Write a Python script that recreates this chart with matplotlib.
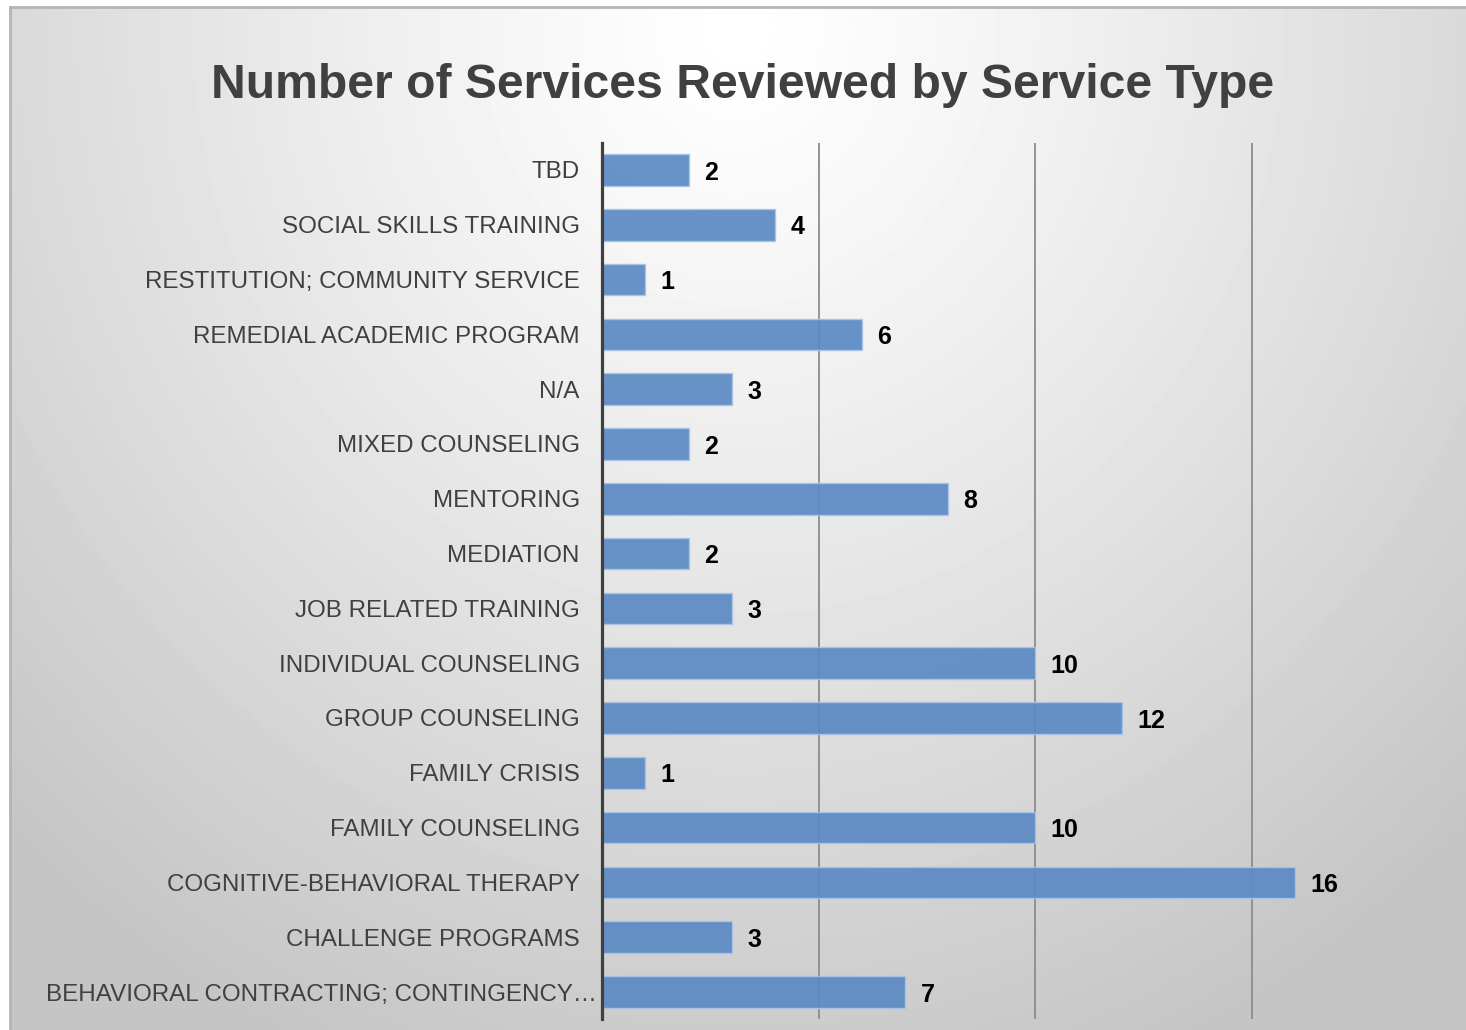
import matplotlib.pyplot as plt
import numpy as np

categories = ['TBD', 'SOCIAL SKILLS TRAINING', 'RESTITUTION; COMMUNITY SERVICE',
              'REMEDIAL ACADEMIC PROGRAM', 'N/A', 'MIXED COUNSELING', 'MENTORING',
              'MEDIATION', 'JOB RELATED TRAINING', 'INDIVIDUAL COUNSELING',
              'GROUP COUNSELING', 'FAMILY CRISIS', 'FAMILY COUNSELING',
              'COGNITIVE-BEHAVIORAL THERAPY', 'CHALLENGE PROGRAMS',
              'BEHAVIORAL CONTRACTING; CONTINGENCY\u2026']
counts = [2, 4, 1, 6, 3, 2, 8, 2, 3, 10, 12, 1, 10, 16, 3, 7]
xticks = [0, 5, 10, 15, 20]

plt.rcParams['font.family'] = ['Liberation Sans', 'DejaVu Sans']

W, H = 1466, 1030
fig = plt.figure(figsize=(W / 100, H / 100), dpi=100)
fig.patch.set_facecolor('white')

# gradient background panel
x0 = 10 / W
bg = fig.add_axes([x0, 0.0, 1 - x0, 1 - 7 / H])
gx, gy = np.meshgrid(np.linspace(0, 1, 400), np.linspace(0, 1, 300))
r = np.sqrt(((gx - 0.5) / 0.72) ** 2 + ((gy - 0.02) / 1.1) ** 2)
shade = 1.0 - 0.23 * np.clip(r, 0, 1) ** 1.2
bg.imshow(shade, cmap='gray', vmin=0, vmax=1, aspect='auto',
          extent=[0, 1, 0, 1], origin='upper')
bg.set_xticks([])
bg.set_yticks([])
for side in ['top', 'left']:
    bg.spines[side].set_color('#b4b4b4')
    bg.spines[side].set_linewidth(2)
for side in ['right', 'bottom']:
    bg.spines[side].set_visible(False)

ax = fig.add_axes([602 / W, 1 - 1019.4 / H, 866 / W, 876.8 / H])
ax.patch.set_alpha(0)
y = np.arange(len(categories))
bars = ax.barh(y, counts, height=0.58, color='#5b8ac4', alpha=0.92,
               edgecolor='#a9c4e6', linewidth=1.0, zorder=2)
ax.set_ylim(len(categories) - 0.5, -0.5)
ax.set_xlim(0, 20)
ax.set_yticks(y)
# last label overflows its slot up to the axis, as in the original
ax.set_yticklabels(categories[:-1] + [''], fontsize=17.4, color='#404040')
ax.annotate(categories[-1], (0, y[-1]), xycoords=ax.get_yaxis_transform(),
            xytext=(-3.5, 0), textcoords='offset points', ha='right',
            va='center_baseline', fontsize=17.4, color='#404040')
ax.tick_params(axis='y', length=0, pad=16)
ax.set_xticks(xticks)
ax.tick_params(axis='x', length=0, labelbottom=False)
ax.grid(axis='x', color='#8c8c8c', linewidth=1.3, zorder=1)
ax.set_axisbelow(True)
for side in ['top', 'right', 'bottom']:
    ax.spines[side].set_visible(False)
ax.spines['left'].set_color('#404040')
ax.spines['left'].set_linewidth(2.3)
ax.spines['left'].set_zorder(3)

for b, v in zip(bars, counts):
    ax.annotate(str(v), (b.get_width(), b.get_y() + b.get_height() / 2),
                xytext=(11, 0), textcoords='offset points', va='center_baseline',
                ha='left', fontsize=18, fontweight='bold', color='black')

fig.text(743 / W, 1 - 86 / H, 'Number of Services Reviewed by Service Type',
         ha='center', va='center', fontsize=34.7, fontweight='bold',
         color='#404040')

fig.savefig('out.png', dpi=100)
